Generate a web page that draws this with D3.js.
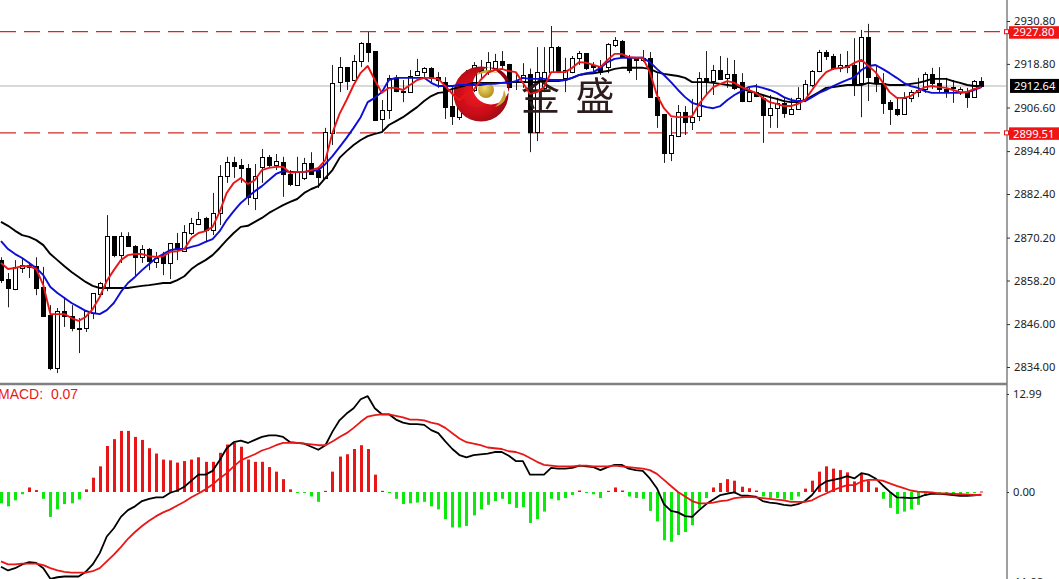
<!DOCTYPE html>
<html><head><meta charset="utf-8">
<script src="https://cdn.jsdelivr.net/npm/d3@7/dist/d3.min.js"></script>
<style>html,body{margin:0;padding:0;background:#fff;overflow:hidden}svg{display:block}</style>
</head><body><svg id="c" width="1059" height="579"></svg>
<script>
const opens=[2863.9,2858.6,2855.8,2861.7,2862.5,2862.2,2856.4,2848.5,2833.7,2849.6,
2848.3,2844.9,2844.9,2849.1,2854.4,2856.4,2870.6,2865.3,2870.6,2867.9,
2864.7,2867.0,2863.4,2865.3,2863.1,2868.7,2866.4,2871.5,2874.0,2875.7,
2872.3,2877.1,2887.4,2891.3,2890.5,2889.7,2881.3,2889.9,2892.8,2890.5,
2891.3,2888.0,2884.9,2886.9,2891.1,2889.1,2886.9,2899.5,2913.7,2917.9,
2914.3,2919.6,2924.6,2922.4,2903.4,2905.9,2914.9,2911.2,2910.9,2915.7,
2916.5,2917.7,2915.1,2913.7,2907.0,2904.0,2908.7,2911.5,2917.7,2917.1,
2917.7,2919.6,2918.8,2914.0,2914.0,2916.0,2899.7,2912.1,2916.5,2923.5,
2914.9,2916.5,2920.5,2921.8,2918.5,2917.9,2917.9,2924.1,2925.2,2920.7,
2920.5,2919.9,2920.5,2909.5,2904.8,2893.9,2898.6,2905.3,2902.5,2904.2,
2914.9,2914.0,2917.1,2914.9,2916.0,2913.7,2908.4,2910.9,2909.3,2904.5,
2906.5,2907.9,2904.8,2906.2,2909.0,2912.9,2916.8,2922.1,2921.0,2917.7,
2918.5,2918.5,2913.5,2926.3,2915.1,2913.5,2908.1,2906.2,2904.8,2909.3,
2910.9,2911.8,2916.0,2913.5,2911.8,2912.3,2910.9,2910.9,2909.5,2914.0];
const highs=[2864.7,2860.3,2863.9,2864.2,2863.4,2864.7,2862.0,2851.3,2850.5,2853.6,
2851.3,2847.7,2849.9,2854.7,2857.8,2876.5,2870.6,2871.7,2871.7,2868.1,
2868.1,2867.3,2866.2,2866.2,2868.7,2871.5,2873.7,2875.7,2877.4,2876.0,
2882.7,2890.5,2892.8,2892.8,2892.2,2890.8,2890.8,2895.0,2893.3,2893.6,
2892.8,2889.1,2892.8,2892.5,2894.1,2889.7,2900.9,2918.5,2920.7,2917.9,
2921.3,2924.9,2927.7,2922.4,2908.7,2915.7,2915.7,2914.3,2917.1,2920.2,
2917.9,2917.9,2916.5,2915.1,2912.3,2908.7,2917.1,2919.3,2919.9,2922.1,
2921.6,2922.4,2918.8,2916.2,2919.0,2917.5,2923.5,2923.5,2929.4,2923.8,
2920.5,2921.0,2922.4,2921.8,2919.3,2919.9,2924.6,2926.3,2925.5,2921.3,
2920.5,2922.7,2922.1,2916.2,2904.8,2903.7,2907.3,2907.0,2909.0,2916.5,
2922.4,2918.5,2921.0,2920.5,2919.9,2916.2,2912.1,2913.2,2910.1,2910.1,
2909.3,2909.3,2909.3,2912.3,2914.3,2917.1,2922.7,2922.7,2921.6,2921.6,
2922.4,2926.0,2928.3,2930.0,2918.5,2916.2,2908.7,2909.3,2910.9,2911.5,
2914.9,2916.5,2917.7,2917.9,2914.9,2914.3,2912.3,2912.1,2914.3,2915.1];
const lows=[2857.5,2850.7,2855.5,2860.3,2858.9,2854.1,2848.0,2833.1,2832.3,2845.2,
2844.0,2837.9,2843.8,2847.4,2853.6,2855.2,2864.7,2863.1,2867.6,2859.4,
2863.1,2861.1,2861.7,2859.7,2858.6,2863.9,2866.2,2870.9,2873.7,2868.9,
2870.9,2873.7,2885.5,2886.9,2885.5,2879.3,2877.9,2885.5,2889.9,2889.1,
2881.6,2884.6,2884.9,2886.3,2888.0,2884.1,2886.9,2896.1,2910.9,2911.5,
2914.0,2917.9,2919.3,2902.8,2899.7,2903.4,2910.9,2908.1,2910.7,2915.7,
2915.1,2913.7,2912.1,2903.4,2901.7,2903.1,2907.3,2910.9,2914.9,2915.7,
2917.7,2917.1,2912.3,2911.5,2912.1,2894.1,2897.2,2910.9,2916.2,2916.2,
2910.9,2916.2,2918.5,2917.1,2916.2,2915.7,2916.2,2923.5,2920.5,2916.2,
2914.3,2919.3,2909.5,2900.9,2891.1,2891.6,2898.3,2898.9,2900.3,2902.8,
2910.1,2910.1,2914.3,2912.1,2911.5,2908.1,2908.1,2909.5,2896.7,2900.9,
2900.9,2903.7,2904.5,2905.9,2908.1,2912.3,2916.5,2919.9,2917.1,2916.5,
2916.2,2909.8,2903.9,2908.4,2910.9,2904.8,2901.7,2904.2,2904.5,2908.1,
2909.5,2910.7,2911.8,2910.9,2909.3,2907.9,2910.1,2906.5,2909.3,2912.1];
const closes=[2858.3,2856.1,2862.0,2862.5,2862.0,2856.1,2848.3,2833.7,2849.6,2848.3,
2844.9,2844.6,2849.6,2854.7,2857.5,2870.6,2865.3,2870.6,2867.9,2864.7,
2867.0,2863.6,2864.5,2863.1,2868.7,2867.0,2871.7,2874.3,2875.4,2872.3,
2877.1,2887.4,2891.3,2890.2,2889.7,2881.6,2887.4,2892.8,2890.5,2891.6,
2888.0,2885.2,2888.6,2891.1,2888.0,2887.2,2899.7,2913.5,2917.9,2914.0,
2919.6,2924.6,2922.1,2903.1,2905.9,2914.9,2911.2,2910.9,2915.4,2916.8,
2917.7,2914.9,2914.3,2906.7,2904.2,2907.3,2914.3,2918.5,2916.5,2919.3,
2919.6,2918.5,2912.3,2913.7,2915.7,2899.7,2916.5,2916.5,2923.5,2916.5,
2917.1,2920.5,2921.8,2917.7,2917.9,2916.5,2924.4,2925.5,2920.7,2917.1,
2919.9,2920.5,2909.5,2904.5,2893.9,2898.9,2905.3,2902.5,2903.9,2914.9,
2913.7,2917.1,2914.6,2916.0,2912.1,2908.4,2910.9,2909.8,2904.5,2906.5,
2907.9,2905.1,2906.2,2909.3,2913.2,2916.8,2922.1,2921.0,2917.7,2918.5,
2917.9,2913.5,2926.3,2915.1,2913.5,2907.9,2906.2,2904.8,2909.3,2910.9,
2911.5,2916.0,2913.5,2911.8,2911.2,2912.1,2911.8,2909.5,2914.0,2912.64];
const maSlow=[2874.6,2873.5,2872.1,2870.9,2870.4,2869.5,2868.1,2865.6,2863.9,2862.2,
2860.6,2859.2,2857.8,2856.7,2856.1,2856.1,2856.1,2856.1,2856.1,2856.4,
2856.7,2856.9,2857.2,2857.5,2857.5,2858.3,2859.4,2861.4,2862.8,2863.9,
2865.3,2867.3,2869.5,2871.5,2873.2,2873.5,2874.6,2875.7,2877.1,2878.2,
2879.3,2880.2,2881.0,2882.7,2883.8,2884.6,2886.9,2889.1,2892.5,2894.4,
2896.1,2897.5,2898.6,2899.2,2899.7,2901.7,2902.8,2903.9,2905.3,2906.7,
2908.4,2909.8,2910.7,2910.9,2911.8,2912.3,2912.9,2913.5,2913.5,2913.5,
2913.5,2913.5,2913.7,2913.7,2913.7,2913.7,2913.7,2914.0,2914.0,2914.0,
2914.3,2914.9,2915.7,2916.0,2916.2,2916.5,2916.8,2917.4,2917.7,2917.7,
2917.7,2917.7,2917.4,2916.5,2916.0,2915.7,2915.4,2914.9,2913.7,2913.7,
2913.7,2913.5,2913.2,2912.9,2912.6,2912.1,2911.2,2910.7,2910.1,2909.5,
2909.0,2908.4,2908.1,2908.1,2908.7,2909.8,2910.9,2912.1,2912.3,2912.6,
2912.9,2912.9,2912.9,2913.5,2913.2,2913.2,2912.9,2912.9,2912.9,2913.2,
2913.5,2914.0,2914.6,2914.6,2914.6,2914.0,2913.5,2912.9,2912.6,2912.6];
const maMid=[2869.2,2867.0,2865.6,2864.5,2863.1,2861.7,2859.7,2856.4,2854.7,2853.3,
2851.9,2850.8,2849.7,2849.1,2848.8,2849.9,2851.9,2855.0,2857.5,2859.2,
2861.1,2862.8,2864.5,2865.6,2866.7,2867.0,2867.0,2867.6,2868.1,2869.0,
2869.8,2872.0,2875.1,2877.6,2879.9,2881.6,2883.2,2884.6,2886.3,2888.0,
2888.8,2888.6,2888.6,2888.6,2888.8,2889.1,2890.8,2893.0,2895.5,2898.1,
2900.9,2903.9,2908.1,2909.3,2910.9,2914.3,2914.9,2914.9,2914.9,2914.9,
2914.9,2913.5,2912.6,2912.6,2912.6,2912.9,2912.9,2912.9,2912.9,2913.2,
2913.2,2913.5,2913.5,2914.0,2914.9,2914.6,2914.6,2914.6,2914.3,2914.3,
2914.3,2914.9,2915.7,2916.2,2916.5,2917.7,2919.3,2920.2,2920.5,2920.5,
2920.5,2920.5,2919.3,2917.4,2915.7,2913.7,2911.5,2909.5,2907.9,2907.3,
2906.7,2906.4,2907.0,2908.7,2910.1,2911.2,2912.3,2912.6,2912.1,2911.5,
2910.7,2909.5,2908.7,2908.4,2908.4,2909.5,2910.7,2911.5,2912.6,2913.5,
2914.3,2915.1,2917.1,2918.2,2918.5,2917.4,2916.2,2914.9,2913.5,2912.6,
2912.1,2911.2,2910.7,2910.7,2910.7,2910.7,2910.7,2910.9,2911.5,2912.3];
const maFast=[2863.1,2861.4,2861.7,2862.2,2862.2,2861.4,2856.9,2848.8,2848.8,2848.8,
2847.7,2846.9,2848.0,2850.2,2853.6,2858.1,2861.1,2863.9,2865.3,2865.6,
2865.6,2865.0,2864.8,2865.0,2866.2,2866.4,2867.0,2870.1,2871.5,2872.0,
2873.2,2877.4,2882.7,2885.5,2886.9,2885.2,2886.3,2889.1,2889.7,2890.0,
2890.0,2888.3,2888.6,2888.6,2889.1,2889.7,2891.9,2899.5,2904.8,2908.7,
2912.9,2916.3,2918.2,2914.3,2910.7,2912.1,2912.1,2911.5,2912.9,2914.3,
2914.9,2914.9,2914.6,2912.6,2910.4,2908.7,2910.4,2911.5,2914.3,2916.3,
2917.1,2917.4,2916.8,2916.5,2913.5,2910.4,2910.9,2912.3,2916.5,2916.5,
2916.5,2917.7,2919.3,2919.1,2918.5,2917.9,2919.9,2921.6,2921.6,2920.7,
2920.5,2920.5,2916.5,2910.1,2906.4,2904.2,2903.9,2903.9,2904.2,2907.6,
2910.1,2912.3,2913.2,2914.0,2913.5,2912.3,2911.5,2910.7,2909.3,2908.1,
2907.6,2907.0,2907.0,2907.6,2908.7,2911.5,2914.3,2916.5,2917.4,2917.7,
2917.9,2919.1,2919.9,2918.2,2916.5,2913.7,2910.9,2909.3,2909.3,2909.8,
2911.2,2912.3,2912.6,2912.3,2912.1,2911.5,2910.9,2910.9,2911.8,2912.3];
const macdHist=[-1.5,-1.9,-1.1,-0.3,0.6,0.25,-0.9,-3.3,-2.3,-1.6,
-1.5,-1.0,0.35,1.9,3.4,6.1,7.0,8.1,8.1,7.3,
6.9,5.8,5.1,4.3,4.2,3.9,4.1,4.3,4.6,4.0,
4.0,5.2,6.3,6.5,6.0,4.3,4.0,4.0,3.3,2.7,
1.7,0.35,-0.1,-0.1,-0.6,-1.3,0.15,2.7,4.7,5.0,
5.7,6.2,5.7,2.3,0.15,-0.1,-0.9,-1.6,-1.5,-1.4,
-1.3,-1.9,-2.3,-3.6,-4.7,-4.7,-4.5,-3.1,-2.3,-1.7,
-1.2,-0.9,-1.6,-2.1,-2.0,-4.1,-3.6,-2.6,-0.9,-1.1,
-0.8,-0.4,0.2,-0.1,-0.3,-0.8,0.15,0.6,0.2,-0.6,
-0.8,-0.9,-2.5,-3.9,-6.4,-6.6,-5.7,-5.3,-4.4,-2.2,
-0.8,0.6,1.2,1.7,1.5,0.7,0.5,0.2,-0.6,-0.8,
-0.8,-1.0,-1.1,-0.6,0.45,1.5,2.7,3.4,3.1,2.9,
2.6,1.4,2.5,1.5,0.6,-0.9,-2.1,-2.9,-2.6,-2.3,
-1.7,-0.5,-0.2,-0.2,-0.2,-0.3,-0.35,-0.2,-0.15,0.07];
const macdMain=[-9.9,-10.4,-10.1,-9.6,-9.3,-9.4,-10.1,-11.5,-11.3,-11.2,
-11.2,-11.2,-10.6,-9.6,-8.1,-5.9,-4.8,-3.3,-2.4,-1.9,
-1.2,-0.9,-0.7,-0.7,-0.1,0.2,0.7,1.5,2.3,2.3,
2.8,4.2,5.8,6.6,6.8,6.5,6.9,7.3,7.5,7.5,
7.3,6.6,6.5,6.4,6.0,5.6,6.2,8.0,9.5,10.4,
11.1,12.3,12.7,11.1,10.3,10.3,9.6,9.2,9.0,9.0,
8.9,8.2,7.8,6.7,5.7,4.9,4.6,4.9,5.0,5.1,
5.3,5.3,4.8,4.1,4.1,2.3,2.3,2.3,3.2,3.1,
3.1,3.2,3.5,3.4,3.3,2.9,3.3,3.6,3.6,3.1,
2.9,2.8,1.8,0.5,-1.6,-2.5,-2.7,-3.2,-3.3,-2.4,
-1.6,-1.0,-0.4,-0.2,-0.05,-0.5,-0.5,-0.6,-1.2,-1.4,
-1.5,-1.7,-1.8,-1.6,-1.2,-0.4,0.8,1.4,1.6,1.8,
2.1,1.8,2.5,2.3,1.8,0.9,0.05,-0.7,-0.75,-0.8,
-0.75,-0.4,-0.2,-0.25,-0.3,-0.4,-0.5,-0.5,-0.45,-0.35];
const macdSignal=[-9.2,-9.6,-9.6,-9.5,-9.5,-9.5,-9.7,-10.1,-10.4,-10.6,
-10.7,-10.7,-10.7,-10.5,-10.1,-9.2,-8.3,-7.3,-6.2,-5.3,
-4.5,-3.8,-3.2,-2.7,-2.3,-1.8,-1.3,-0.7,-0.2,0.35,
1.0,1.8,2.5,3.4,4.2,4.6,5.0,5.5,5.8,6.2,
6.5,6.5,6.5,6.4,6.3,6.2,6.2,6.7,7.3,7.8,
8.5,9.3,10.0,10.2,10.3,10.3,10.1,9.9,9.6,9.6,
9.5,9.2,9.0,8.5,7.8,7.1,6.6,6.4,6.2,5.9,
5.8,5.7,5.4,5.3,5.0,4.5,4.0,3.6,3.5,3.4,
3.4,3.4,3.5,3.5,3.4,3.4,3.4,3.5,3.4,3.3,
3.2,3.1,2.9,2.4,1.6,0.8,0,-0.6,-1.2,-1.5,
-1.5,-1.4,-1.2,-1.1,-0.8,-0.7,-0.65,-0.7,-0.8,-0.9,
-1.0,-1.1,-1.3,-1.3,-1.3,-1.1,-0.6,-0.2,0.25,0.6,
0.9,0.9,1.4,1.6,1.6,1.5,1.15,0.8,0.5,0.2,
0.05,0,-0.05,-0.2,-0.2,-0.25,-0.3,-0.35,-0.4,-0.4];
const priceTicks=[2930.80,2918.80,2906.60,2894.40,2882.40,2870.20,2858.20,2846.00,2834.00];
const macdTicks=[12.99,0];
const macdBottomLabel="-11.98";
const levels=[2927.80,2899.51];
const lastPrice=2912.64;
const macdLabel="MACD:  0.07";
const logoText=["金","盛"];

const FONT='"Noto Sans",sans-serif';
const svg=d3.select("#c");
const defs=svg.append("defs");
const idx=d3.range(opens.length);
const x=d3.scaleLinear().domain([0,139]).range([1,981.3]);
const y=d3.scaleLinear().domain([2834,2930.8]).range([367,21]);
const ym=d3.scaleLinear().domain([0,12.99]).range([492,394]);
const px=i=>Math.round(x(i))+0.5;

defs.append("clipPath").attr("id","mainClip").append("rect").attr("width",1006).attr("height",383);
defs.append("clipPath").attr("id","macdClip").append("rect").attr("y",386).attr("width",1006).attr("height",193);
defs.append("filter").attr("id","soft").attr("filterUnits","userSpaceOnUse").attr("x",0).attr("y",0).attr("width",1059).attr("height",579)
  .append("feGaussianBlur").attr("stdDeviation",0.38);

const main=svg.append("g").attr("clip-path","url(#mainClip)").append("g").attr("filter","url(#soft)");

main.append("line").attr("x1",0).attr("x2",1006).attr("y1",y(lastPrice)).attr("y2",y(lastPrice))
  .attr("stroke","#cccccc").attr("stroke-width",1.5);
main.selectAll(".lvl").data(levels).join("line").attr("x1",0).attr("x2",1006)
  .attr("y1",d=>y(d)).attr("y2",d=>y(d)).attr("stroke","#cf2a2a").attr("stroke-width",1.3)
  .attr("stroke-dasharray","16,8");

main.selectAll(".wick").data(idx).join("line")
  .attr("x1",px).attr("x2",px).attr("y1",i=>y(highs[i])).attr("y2",i=>y(lows[i]))
  .attr("stroke","#222").attr("stroke-width",1);
main.selectAll(".body").data(idx).join("rect")
  .attr("x",i=>px(i)-2).attr("width",4)
  .attr("y",i=>Math.round(y(Math.max(opens[i],closes[i])))+0.5)
  .attr("height",i=>Math.max(1,Math.round(Math.abs(y(opens[i])-y(closes[i])))))
  .attr("fill",i=>closes[i]>=opens[i]?"#fff":"#000")
  .attr("stroke","#000").attr("stroke-width",1);

// logo crescent sits above the candles, its cut-out stays transparent
const grad=defs.append("radialGradient").attr("id","cres").attr("cx","0.42").attr("cy","0.5").attr("r","0.62");
grad.append("stop").attr("offset","0").attr("stop-color","#f01c24");
grad.append("stop").attr("offset","0.6").attr("stop-color","#c80c18");
grad.append("stop").attr("offset","1").attr("stop-color","#8a0410");
const gold=defs.append("radialGradient").attr("id","gold").attr("cx","0.4").attr("cy","0.35").attr("r","0.7");
gold.append("stop").attr("offset","0").attr("stop-color","#f0dc70");
gold.append("stop").attr("offset","1").attr("stop-color","#b08a18");
const circ=(cx,cy,r)=>{const p=d3.path();p.moveTo(cx+r,cy);p.arc(cx,cy,r,0,Math.PI*2);p.closePath();return p.toString();};
const logo=main.append("g");
logo.append("path").attr("d",circ(481,94,27.5)+circ(491,86,18.5)).attr("fill-rule","evenodd").attr("fill","url(#cres)");
logo.append("circle").attr("cx",486).attr("cy",90).attr("r",8).attr("fill","url(#gold)");
logo.append("path").attr("d","M476,75 Q486,66 498,73 Q488,71 476,75Z").attr("fill","#c9a83a");
logo.append("path").attr("d","M495,107 Q503,100 504,90 Q510,102 495,107Z").attr("fill","#c9a83a");
logo.selectAll(".t").data(logoText).join("text")
  .attr("x",(d,i)=>[540.5,595][i]).attr("y",109.5).attr("text-anchor","middle")
  .attr("font-family",'"Noto Sans CJK SC"').attr("font-size",39).attr("font-weight",400)
  .attr("fill","#2e1d1b").text(d=>d);

const priceLine=d3.line().x((d,i)=>x(i)).y(d=>y(d));
[[maSlow,"#000"],[maMid,"#0a0ad8"],[maFast,"#e81818"]].forEach(([s,c])=>{
  main.append("path").attr("d",priceLine(s)).attr("fill","none").attr("stroke",c)
    .attr("stroke-width",1.9).attr("stroke-linejoin","round");
});

const macd=svg.append("g").attr("clip-path","url(#macdClip)").append("g").attr("filter","url(#soft)");
macd.selectAll(".hist").data(idx).join("rect")
  .attr("x",i=>Math.round(x(i))-1).attr("width",3)
  .attr("y",i=>macdHist[i]>=0?ym(macdHist[i]):ym(0))
  .attr("height",i=>Math.max(1,Math.abs(ym(macdHist[i])-ym(0))))
  .attr("fill",i=>macdHist[i]>=0?"#e81414":"#0fe80f");
const macdLine=d3.line().x((d,i)=>x(i)).y(d=>ym(d));
[[macdMain,"#000"],[macdSignal,"#e81818"]].forEach(([s,c])=>{
  macd.append("path").attr("d",macdLine(s)).attr("fill","none").attr("stroke",c)
    .attr("stroke-width",1.8).attr("stroke-linejoin","round");
});

// frame
svg.append("line").attr("x1",0).attr("x2",1007).attr("y1",384).attr("y2",384).attr("stroke","#808080").attr("stroke-width",2.5);
svg.append("line").attr("x1",1007).attr("x2",1007).attr("y1",0).attr("y2",579).attr("stroke","#808080").attr("stroke-width",1.5);

const fmt=d3.format(".2f");
const styleAxis=g=>{
  g.select(".domain").remove();
  g.selectAll("line").attr("stroke","#333");
  g.selectAll("text").attr("font-family",FONT).attr("font-size",11.2).attr("fill","#222");
};
svg.append("g").attr("transform","translate(1007,0)")
  .call(d3.axisRight(y).tickValues(priceTicks).tickFormat(fmt).tickSize(3).tickPadding(4)).call(styleAxis);
svg.append("g").attr("transform","translate(1007,0)")
  .call(d3.axisRight(ym).tickValues(macdTicks).tickFormat(fmt).tickSize(2).tickPadding(4)).call(styleAxis);
svg.append("text").attr("x",1011).attr("y",ym(-11.98)+4).attr("font-family",FONT).attr("font-size",11.2).attr("fill","#222").text(macdBottomLabel);

// price tags
levels.forEach(v=>{
  svg.append("rect").attr("x",1004.5).attr("y",y(v)-2).attr("width",4).attr("height",4).attr("fill","#fff").attr("stroke","#e81414");
  svg.append("rect").attr("x",1009).attr("y",y(v)-5.5).attr("width",50).attr("height",12.5).attr("fill","#f01414");
  svg.append("text").attr("x",1013).attr("y",y(v)+4.7).attr("font-family",FONT).attr("font-size",11.2).attr("fill","#fff").text(fmt(v));
});
svg.append("rect").attr("x",1010).attr("y",y(lastPrice)-7).attr("width",49).attr("height",14).attr("fill","#000");
svg.append("text").attr("x",1014).attr("y",y(lastPrice)+4.5).attr("font-family",FONT).attr("font-size",11.2).attr("fill","#fff").text(fmt(lastPrice));

svg.append("text").attr("x",-2).attr("y",399).attr("font-family",'"Liberation Sans",sans-serif').attr("font-size",14)
  .attr("fill","#e81818").style("white-space","pre").text(macdLabel);
</script></body></html>
